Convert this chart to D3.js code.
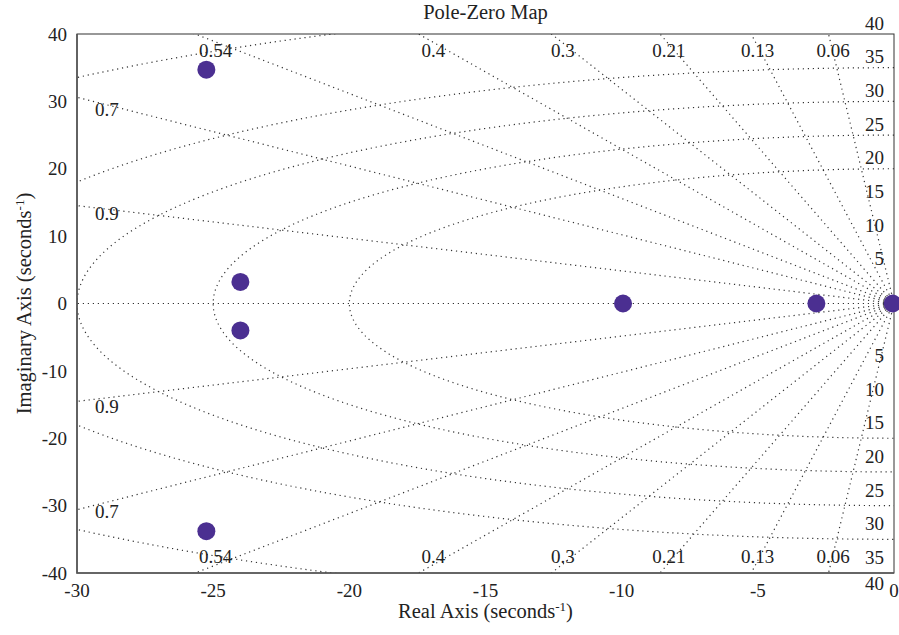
<!DOCTYPE html>
<html>
<head>
<meta charset="utf-8">
<script src="https://cdn.jsdelivr.net/npm/d3@7"></script>
<style>
body { margin: 0; background: #fff; }
text { font-family: "Liberation Serif", serif; fill: #222; }
</style>
</head>
<body>
<script>
"use strict";

const X_TICKS = [-30, -25, -20, -15, -10, -5, 0];
const Y_TICKS = [40, 30, 20, 10, 0, -10, -20, -30, -40];
const DAMPING = [0.06, 0.13, 0.21, 0.3, 0.4, 0.54, 0.7, 0.9];
const FREQS = [20, 25, 30, 35, 45];
const FREQ_LABELS = [5, 10, 15, 20, 25, 30, 35, 40];
const POLE_RE = [-25.25, -25.25, -24.0, -24.0, -9.95, -2.85, -0.05];
const POLE_IM = [34.7, -33.8, 3.2, -4.0, 0, 0, 0];

const W = 899, H = 635;
const margin = { top: 34, right: 5, bottom: 62, left: 77 };
const NUM_FONT = "19px";
const LABEL_FONT = "20.5px";

const svg = d3.select("body").append("svg")
    .attr("width", W)
    .attr("height", H);

const x = d3.scaleLinear().domain([-30, 0]).range([margin.left, W - margin.right]);
const y = d3.scaleLinear().domain([-40, 40]).range([H - margin.bottom, margin.top]);

svg.append("defs").append("clipPath")
    .attr("id", "plot-clip")
    .append("rect")
    .attr("x", margin.left)
    .attr("y", margin.top)
    .attr("width", x(0) - x(-30))
    .attr("height", y(-40) - y(40));

// s-plane grid
const grid = svg.append("g")
    .attr("clip-path", "url(#plot-clip)")
    .attr("fill", "none")
    .attr("stroke", "#333")
    .attr("stroke-width", 1.2)
    .attr("stroke-dasharray", "1.2 3.8");

const line = d3.line().x((d) => x(d[0])).y((d) => y(d[1]));

// constant natural frequency
const angles = d3.range(0, 181).map((a) => Math.PI / 2 + a * Math.PI / 180);
grid.selectAll(".wn")
    .data(FREQS)
    .join("path")
    .attr("class", "wn")
    .attr("d", (wn) => line(angles.map((t) => [wn * Math.cos(t), wn * Math.sin(t)])));

// constant damping
for (const sign of [1, -1]) {
    grid.selectAll(null)
        .data(DAMPING)
        .join("path")
        .attr("d", (z) => line([[0, 0], [-100 * z, sign * 100 * Math.sqrt(1 - z * z)]]));
}
grid.append("path").attr("d", line([[0, 0], [-100, 0]]));

// damping labels
function zetaPos(z, sign) {
    const t = Math.sqrt(1 - z * z) / z;
    if (t * 30 > 40) {
        return [x(-39 / t) + 3, y(sign * 37.6)];
    }
    return [x(-28.9), y(sign * 28.9 * t) + (sign > 0 ? 4 : 9)];
}
for (const sign of [1, -1]) {
    svg.append("g").selectAll("text")
        .data(DAMPING)
        .join("text")
        .attr("x", (z) => zetaPos(z, sign)[0])
        .attr("y", (z) => zetaPos(z, sign)[1])
        .attr("dy", "0.35em")
        .attr("text-anchor", "middle")
        .style("font-size", NUM_FONT)
        .text((z) => z);
}

// natural frequency labels
svg.append("g").selectAll("text")
    .data(FREQ_LABELS)
    .join("text")
    .attr("x", x(0) - 10)
    .attr("y", (wn) => y(wn) - 11)
    .attr("dy", "0.35em")
    .attr("text-anchor", "end")
    .style("font-size", NUM_FONT)
    .text((wn) => wn);
svg.append("g").selectAll("text")
    .data(FREQ_LABELS)
    .join("text")
    .attr("x", x(0) - 10)
    .attr("y", (wn) => Math.min(y(-wn) + 18, y(-40) + 10))
    .attr("dy", "0.35em")
    .attr("text-anchor", "end")
    .style("font-size", NUM_FONT)
    .text((wn) => wn);

// axes frame
svg.append("rect")
    .attr("x", margin.left)
    .attr("y", margin.top)
    .attr("width", x(0) - x(-30))
    .attr("height", y(-40) - y(40))
    .attr("fill", "none")
    .attr("stroke", "#333")
    .attr("stroke-width", 1);
svg.append("path")
    .attr("d", `M${x(-30)},${y(40)}V${y(-40)}H${x(0)}`)
    .attr("fill", "none")
    .attr("stroke", "#555")
    .attr("stroke-width", 1.6);

// tick labels
svg.append("g").selectAll("text")
    .data(X_TICKS)
    .join("text")
    .attr("x", (d) => x(d))
    .attr("y", 597)
    .attr("text-anchor", "middle")
    .style("font-size", NUM_FONT)
    .text((d) => d);
svg.append("g").selectAll("text")
    .data(Y_TICKS)
    .join("text")
    .attr("x", margin.left - 10)
    .attr("y", (d) => y(d))
    .attr("dy", "0.35em")
    .attr("text-anchor", "end")
    .style("font-size", NUM_FONT)
    .text((d) => d);

// poles
svg.append("g").selectAll("circle")
    .data(POLE_RE)
    .join("circle")
    .attr("cx", (d) => x(d))
    .attr("cy", (d, i) => y(POLE_IM[i]))
    .attr("r", 9)
    .attr("fill", "#4b2f91");

// titles
svg.append("text")
    .attr("x", (x(-30) + x(0)) / 2)
    .attr("y", 19)
    .attr("text-anchor", "middle")
    .style("font-size", LABEL_FONT)
    .text("Pole-Zero Map");

const xl = svg.append("text")
    .attr("x", (x(-30) + x(0)) / 2)
    .attr("y", 618)
    .attr("text-anchor", "middle")
    .style("font-size", LABEL_FONT);
xl.append("tspan").text("Real Axis (seconds");
xl.append("tspan").attr("dy", -7).style("font-size", "13px").text("-1");
xl.append("tspan").attr("dy", 7).text(")");

const yl = svg.append("text")
    .attr("transform", `translate(31,${(y(40) + y(-40)) / 2}) rotate(-90)`)
    .attr("text-anchor", "middle")
    .style("font-size", LABEL_FONT);
yl.append("tspan").text("Imaginary Axis (seconds");
yl.append("tspan").attr("dy", -7).style("font-size", "13px").text("-1");
yl.append("tspan").attr("dy", 7).text(")");
</script>
</body>
</html>
